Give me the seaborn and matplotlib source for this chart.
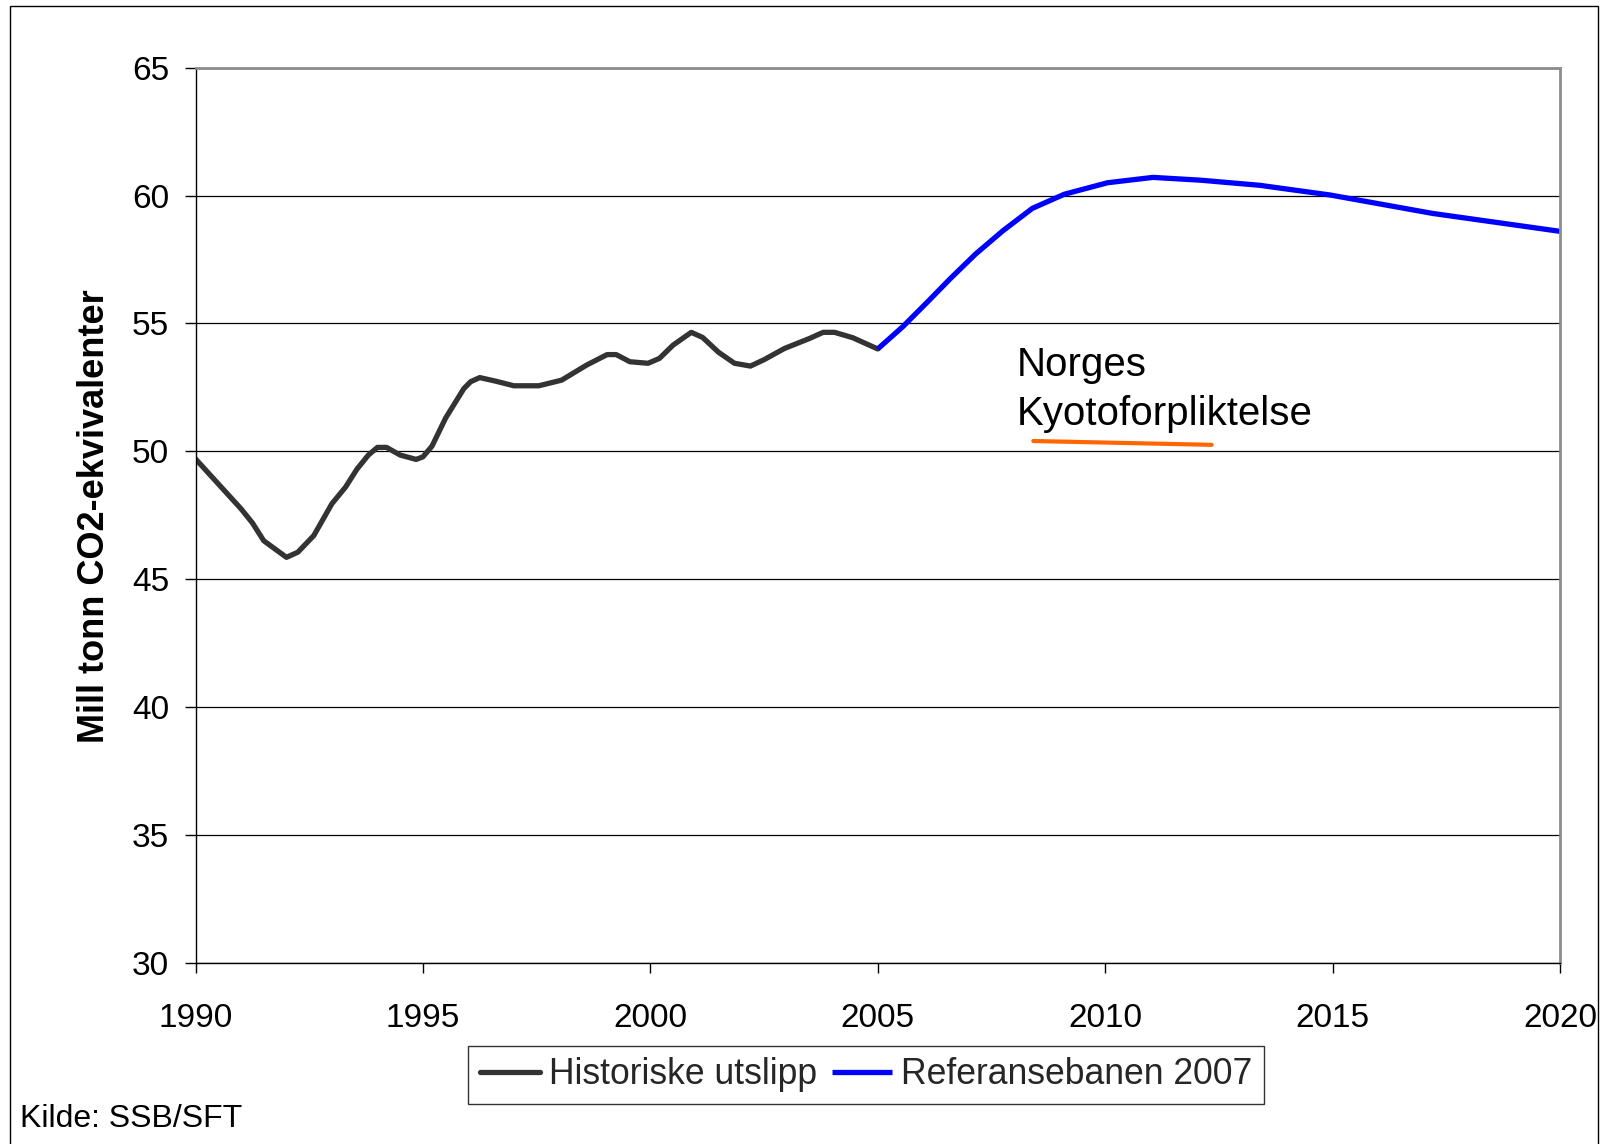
import matplotlib
matplotlib.use("Agg")
import matplotlib.pyplot as plt
from matplotlib.patches import Rectangle
import seaborn as sns
import pandas as pd

# ---- data ----
hist_years = [1990.0, 1991.0, 1991.25, 1991.5, 1992.0, 1992.25, 1992.6, 1993.0, 1993.3,
              1993.55, 1993.8, 1994.0, 1994.2, 1994.5, 1994.85, 1995.0, 1995.2, 1995.5,
              1995.9, 1996.05, 1996.25, 1996.6, 1997.0, 1997.55, 1998.05, 1998.6, 1999.05,
              1999.25, 1999.55, 1999.95, 2000.2, 2000.5, 2000.9, 2001.15, 2001.5, 2001.85,
              2002.2, 2002.5, 2002.95, 2003.5, 2003.8, 2004.05, 2004.45, 2005.0]
hist_vals = [49.7, 47.75, 47.2, 46.5, 45.85, 46.05, 46.7, 47.95, 48.6,
             49.3, 49.85, 50.15, 50.15, 49.85, 49.68, 49.78, 50.2, 51.3,
             52.45, 52.72, 52.88, 52.74, 52.56, 52.56, 52.78, 53.37, 53.78,
             53.78, 53.5, 53.44, 53.63, 54.15, 54.65, 54.45, 53.87, 53.44,
             53.33, 53.58, 54.02, 54.41, 54.65, 54.65, 54.44, 54.0]

ref_years = [2005.0, 2005.55, 2006.1, 2006.6, 2007.15, 2007.75, 2008.4, 2009.1,
             2010.05, 2011.05, 2012.1, 2013.4, 2014.95, 2017.2, 2020.0]
ref_vals = [54.0, 54.87, 55.85, 56.76, 57.71, 58.62, 59.5, 60.05,
            60.5, 60.71, 60.6, 60.4, 60.02, 59.3, 58.6]

kyoto_years = [2008.42, 2012.34]
kyoto_vals = [50.4, 50.25]

x_ticks = [1990, 1995, 2000, 2005, 2010, 2015, 2020]
y_ticks = [30, 35, 40, 45, 50, 55, 60, 65]

hist_label = "Historiske utslipp"
ref_label = "Referansebanen 2007"
y_label = "Mill tonn CO2-ekvivalenter"
note_lines = ["Norges", "Kyotoforpliktelse"]
source = "Kilde: SSB/SFT"

# ---- styling ----
sns.set_theme(style="white")
plt.rcParams["font.family"] = ["Liberation Sans", "DejaVu Sans"]

W, H = 1609, 1144
fig = plt.figure(figsize=(W / 100, H / 100), dpi=100)
ax = fig.add_axes([195.5 / W, 1 - 962.6 / H, (1560 - 195.5) / W, (962.6 - 67.7) / H])

df_h = pd.DataFrame({"year": hist_years, "value": hist_vals})
df_r = pd.DataFrame({"year": ref_years, "value": ref_vals})
df_k = pd.DataFrame({"year": kyoto_years, "value": kyoto_vals})

sns.lineplot(data=df_h, x="year", y="value", ax=ax, color="#333333", lw=3.8,
             label=hist_label, sort=False, solid_joinstyle="round", solid_capstyle="round")
sns.lineplot(data=df_r, x="year", y="value", ax=ax, color="#0000FF", lw=3.8,
             label=ref_label, sort=False, solid_joinstyle="round", solid_capstyle="butt")
sns.lineplot(data=df_k, x="year", y="value", ax=ax, color="#FF6600", lw=3.0,
             legend=False, sort=False)

ax.set_xlim(1990, 2020)
ax.set_ylim(30, 65)
ax.set_xticks(x_ticks)
ax.set_yticks(y_ticks)
ax.set_xlabel("")
ax.set_ylabel("")

ax.yaxis.grid(True, color="black", lw=0.9)
ax.xaxis.grid(False)
ax.set_axisbelow(True)

for s in ["left", "bottom"]:
    ax.spines[s].set_color("black")
    ax.spines[s].set_linewidth(1.0)
for s in ["top", "right"]:
    ax.spines[s].set_color("#8c8c8c")
    ax.spines[s].set_linewidth(2.0)

ax.tick_params(axis="y", which="major", direction="out", length=8, width=1,
               color="black", labelsize=24, pad=11, left=True, labelcolor="black")
ax.tick_params(axis="x", which="major", direction="out", length=7, width=1,
               color="black", labelsize=24, pad=22, bottom=True, labelcolor="black")

# annotation
ax.text(2008.05, 52.93, note_lines[0], fontsize=29, color="black", ha="left", va="baseline")
ax.text(2008.05, 51.02, note_lines[1], fontsize=29, color="black", ha="left", va="baseline")

# y label
fig.text(94.5 / W, 1 - 516 / H, y_label, rotation=90, fontsize=26, fontweight="bold",
         ha="center", va="center", color="black")

# legend
leg = ax.legend(loc="center", bbox_to_anchor=(866 / W, 1 - 1075 / H),
                bbox_transform=fig.transFigure, ncol=2, fontsize=25.6, frameon=True,
                fancybox=False, edgecolor="black", handlelength=1.7, handletextpad=0.25,
                columnspacing=0.4, borderpad=0.32, borderaxespad=0)
leg.get_frame().set_linewidth(1.0)
for line in leg.get_lines():
    line.set_linewidth(3.8)

# source
fig.text(20 / W, 1 - 1126.7 / H, source, fontsize=23, color="black", ha="left", va="baseline")

# outer frame
fig.add_artist(Rectangle((9.5 / W, -0.05), (1598 - 9.5) / W, 1.05 - 5.5 / H,
                         transform=fig.transFigure, fill=False, ec="black", lw=1.0))

fig.savefig("out.png", dpi=100, facecolor="white")
